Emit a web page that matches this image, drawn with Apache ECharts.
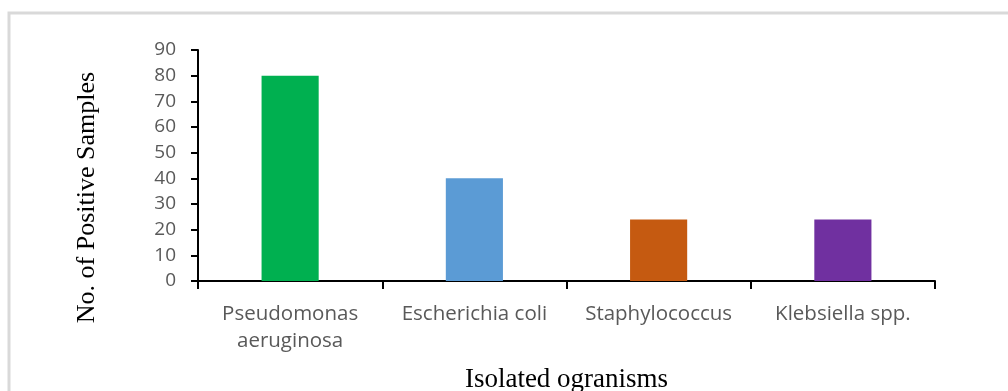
<!DOCTYPE html>
<html>
<head>
<meta charset="utf-8">
<script src="https://cdn.jsdelivr.net/npm/echarts@6/dist/echarts.min.js"></script>
<style>
  html, body { margin: 0; padding: 0; background: #fff; }
  #chart { width: 1008px; height: 391px; }
</style>
</head>
<body>
<div id="chart"></div>
<script>
// organisms isolated, count of positive samples
const categories = ['Pseudomonas\naeruginosa', 'Escherichia coli', 'Staphylococcus', 'Klebsiella spp.']
const positives = [80, 40, 24, 24]
const barColors = ['#00B050', '#5B9BD5', '#C55A11', '#7030A0']

let myChart = echarts.init(document.getElementById('chart'))
let option = {
    animation: false,
    backgroundColor: '#fff',
    graphic: [{
        type: 'rect',
        shape: { x: 9, y: 13, width: 1010, height: 400 },
        style: { fill: 'none', stroke: '#D9D9D9', lineWidth: 3 },
        silent: true
    }],
    grid: { left: 198, right: 73, top: 50, bottom: 110, outerBoundsMode: 'none' },
    xAxis: {
        type: 'category',
        data: categories,
        name: 'Isolated ogranisms',
        nameLocation: 'middle',
        nameGap: 85,
        nameTextStyle: { fontFamily: 'Liberation Serif', fontSize: 27, color: '#000' },
        axisLine: { lineStyle: { color: '#000', width: 2 } },
        axisTick: { show: true, interval: 0, alignWithLabel: false, length: 8, lineStyle: { color: '#000', width: 2 } },
        axisLabel: { interval: 0, margin: 20, fontFamily: 'Open Sans', fontSize: 20.5, color: '#595959', lineHeight: 27 }
    },
    yAxis: {
        type: 'value',
        min: 0, max: 90, interval: 10,
        name: 'No. of Positive Samples',
        nameLocation: 'middle',
        nameGap: 98,
        // right padding pushes the rotated title down toward where the reference sits
        nameTextStyle: { fontFamily: 'Liberation Serif', fontSize: 26, color: '#000', padding: [0, 64, 0, 0] },
        splitLine: { show: false },
        axisLine: { show: true, lineStyle: { color: '#000', width: 2 } },
        axisTick: { show: true, length: 7, lineStyle: { color: '#000', width: 2 } },
        axisLabel: { margin: 22, fontFamily: 'Open Sans', fontSize: 19, color: '#595959' }
    },
    series: [{
        type: 'bar',
        barWidth: '31%',
        data: positives.map((v, i) => ({ value: v, itemStyle: { color: barColors[i] } }))
    }]
}
myChart.setOption(option)
</script>
</body>
</html>
